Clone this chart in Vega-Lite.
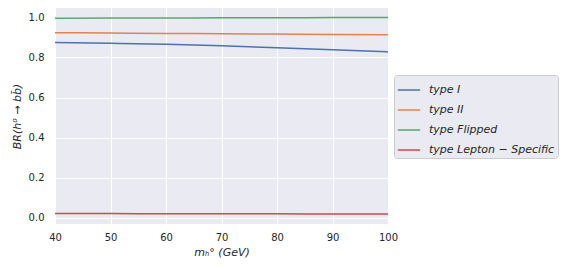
{
  "$schema": "https://vega.github.io/schema/vega-lite/v6.json",
  "width": 333,
  "height": 216,
  "autosize": {"type": "none"},
  "padding": {"left": 55, "top": 8, "right": 175, "bottom": 47},
  "background": "white",
  "config": {
    "view": {"fill": "#EAEAF2", "stroke": null},
    "font": "DejaVu Sans",
    "axis": {
      "domain": false,
      "ticks": false,
      "gridColor": "white",
      "gridWidth": 1,
      "labelColor": "#262626",
      "titleColor": "#262626",
      "labelFontSize": 10,
      "titleFontSize": 11,
      "titleFontWeight": "normal",
      "titleFontStyle": "italic",
      "labelFlush": false,
      "labelOverlap": false
    }
  },
  "data": {
    "values": [
      {"m": 40, "br": 0.875, "type": "type I"},
      {"m": 50, "br": 0.871, "type": "type I"},
      {"m": 60, "br": 0.866, "type": "type I"},
      {"m": 70, "br": 0.858, "type": "type I"},
      {"m": 80, "br": 0.849, "type": "type I"},
      {"m": 90, "br": 0.839, "type": "type I"},
      {"m": 100, "br": 0.828, "type": "type I"},
      {"m": 40, "br": 0.924, "type": "type II"},
      {"m": 50, "br": 0.922, "type": "type II"},
      {"m": 60, "br": 0.920, "type": "type II"},
      {"m": 70, "br": 0.919, "type": "type II"},
      {"m": 80, "br": 0.917, "type": "type II"},
      {"m": 90, "br": 0.915, "type": "type II"},
      {"m": 100, "br": 0.914, "type": "type II"},
      {"m": 40, "br": 0.996, "type": "type Flipped"},
      {"m": 50, "br": 0.997, "type": "type Flipped"},
      {"m": 60, "br": 0.997, "type": "type Flipped"},
      {"m": 70, "br": 0.998, "type": "type Flipped"},
      {"m": 80, "br": 0.998, "type": "type Flipped"},
      {"m": 90, "br": 0.999, "type": "type Flipped"},
      {"m": 100, "br": 0.999, "type": "type Flipped"},
      {"m": 40, "br": 0.021, "type": "type Lepton − Specific"},
      {"m": 50, "br": 0.021, "type": "type Lepton − Specific"},
      {"m": 60, "br": 0.020, "type": "type Lepton − Specific"},
      {"m": 70, "br": 0.020, "type": "type Lepton − Specific"},
      {"m": 80, "br": 0.020, "type": "type Lepton − Specific"},
      {"m": 90, "br": 0.019, "type": "type Lepton − Specific"},
      {"m": 100, "br": 0.019, "type": "type Lepton − Specific"}
    ]
  },
  "mark": {"type": "line", "strokeWidth": 1.5, "interpolate": "monotone"},
  "encoding": {
    "x": {
      "field": "m",
      "type": "quantitative",
      "scale": {"domain": [40, 100], "nice": false, "zero": false},
      "axis": {"values": [40, 50, 60, 70, 80, 90, 100], "title": "mₕ° (GeV)", "labelPadding": 8, "titlePadding": 4}
    },
    "y": {
      "field": "br",
      "type": "quantitative",
      "scale": {"domain": [-0.031, 1.047], "nice": false, "zero": false},
      "axis": {"values": [0, 0.2, 0.4, 0.6, 0.8, 1.0], "format": ".1f", "title": "BR(h⁰ → bb̄)", "labelPadding": 11, "titlePadding": 6}
    },
    "color": {
      "field": "type",
      "type": "nominal",
      "sort": ["type I", "type II", "type Flipped", "type Lepton − Specific"],
      "scale": {"domain": ["type I", "type II", "type Flipped", "type Lepton − Specific"], "range": ["#4C72B0", "#DD8452", "#55A868", "#C44E52"]},
      "legend": {
        "title": null,
        "orient": "none",
        "legendX": 339,
        "legendY": 67,
        "symbolType": "stroke",
        "symbolSize": 500,
        "symbolStrokeWidth": 1.5,
        "labelFontSize": 11,
        "labelOffset": 8,
        "labelFontStyle": "italic",
        "labelColor": "#262626",
        "rowPadding": 3,
        "padding": 3,
        "fillColor": "#EAEAF2",
        "strokeColor": "#CCCCCC",
        "cornerRadius": 3
      }
    }
  }
}
